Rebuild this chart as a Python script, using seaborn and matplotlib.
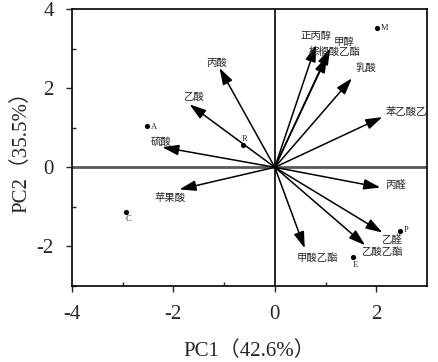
import numpy as np
import pandas as pd
import seaborn as sns
import matplotlib.pyplot as plt

# loading vectors (arrow tips)
var_names = ['丙酸', '乙酸', '硫酸', '苹果酸', '正丙醇', '甲醇', '棕榈酸乙酯',
             '乳酸', '苯乙酸乙酯', '丙醛', '乙醛', '乙酸乙酯', '甲酸乙酯']
var_pc1 = [-1.09, -1.68, -2.22, -1.88, 0.81, 1.09, 1.03, 1.52, 2.12, 2.08, 2.12, 1.78, 0.59]
var_pc2 = [2.51, 1.59, 0.51, -0.56, 3.09, 3.01, 2.81, 2.25, 1.27, -0.51, -1.65, -1.97, -2.05]

# sample scores
sample_names = ['M', 'A', 'R', 'C', 'P', 'E']
sample_pc1 = [2.02, -2.51, -0.63, -2.93, 2.46, 1.54]
sample_pc2 = [3.52, 1.04, 0.56, -1.14, -1.62, -2.28]

# label placement (offset in pixels from point, alignment)
var_offsets = [(-3, 5, 'center'), (4, 7, 'center'), (-1, 5, 'center'), (-9, -8, 'center'),
               (0, 9, 'center'), (14, 6, 'center'), (8, 4, 'center'), (14, 10, 'center'),
               (3, 5, 'left'), (5, 2, 'left'), (9, -7, 'center'), (17, -7, 'center'),
               (13, -10, 'center')]
sample_offsets = [(7, 0), (6, -1), (2, 6), (2, -7), (6, 1), (2, -8)]

sns.set_style('ticks')
plt.rcParams['font.family'] = ['Liberation Serif', 'Noto Sans CJK SC']
plt.rcParams['axes.unicode_minus'] = False

fig = plt.figure(figsize=(4.38, 3.62), dpi=100)
ax = fig.add_axes([0.164, 0.21, 0.811, 0.765])

ax.axhline(0, color='#5a5a5a', lw=2.0, zorder=1)
ax.axvline(0, color='black', lw=1.2, zorder=1)

for name, x, y, (dx, dy, ha) in zip(var_names, var_pc1, var_pc2, var_offsets):
    ax.annotate('', xy=(x, y), xytext=(0, 0),
                arrowprops=dict(arrowstyle='-|>,head_length=1.0,head_width=0.32',
                                color='black', lw=1.1, mutation_scale=10,
                                shrinkA=0, shrinkB=0), zorder=3)
    ax.annotate(name, xy=(x, y), xytext=(dx, dy), textcoords='offset pixels',
                ha=ha, va='center', fontsize=7.5, family='Noto Sans CJK SC',
                clip_on=True, zorder=4)

df = pd.DataFrame({'PC1': sample_pc1, 'PC2': sample_pc2, 'name': sample_names})
sns.scatterplot(data=df, x='PC1', y='PC2', color='black', s=14, edgecolor='black',
                linewidth=0, ax=ax, zorder=5, legend=False)
for name, x, y, (dx, dy) in zip(sample_names, sample_pc1, sample_pc2, sample_offsets):
    ax.annotate(name, xy=(x, y), xytext=(dx, dy), textcoords='offset pixels',
                ha='center', va='center', fontsize=6, family='Liberation Serif')

ax.set_xlim(-4, 3)
ax.set_ylim(-3, 4)
ax.set_xticks([-4, -2, 0, 2])
ax.set_yticks([-2, 0, 2, 4])
ax.set_xticks([-3, -1, 1], minor=True)
ax.set_yticks([-3, -1, 1, 3], minor=True)
ax.tick_params(which='major', direction='out', length=4, width=1, labelsize=15)
ax.tick_params(axis='x', which='major', pad=10)
ax.tick_params(axis='y', which='major', pad=9)
ax.tick_params(which='minor', direction='in', length=3, width=1)
for s in ax.spines.values():
    s.set_visible(True)
    s.set_linewidth(1.2)
    s.set_color('black')

ax.set_xlabel('PC1（42.6%）', fontsize=15, labelpad=12)
ax.set_ylabel('PC2（35.5%）', fontsize=15, labelpad=4)

fig.savefig('out.png', dpi=100)
